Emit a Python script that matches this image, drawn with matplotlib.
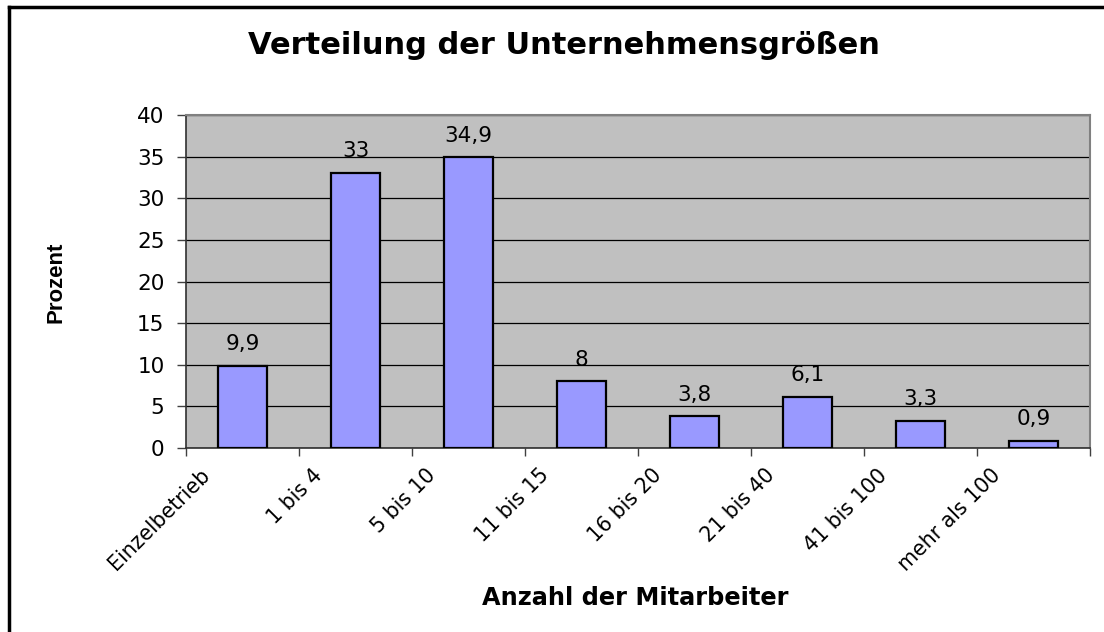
import matplotlib
matplotlib.use("Agg")
import matplotlib.pyplot as plt
import matplotlib.transforms as mtransforms
from matplotlib.lines import Line2D

categories = ["Einzelbetrieb", "1 bis 4", "5 bis 10", "11 bis 15", "16 bis 20",
              "21 bis 40", "41 bis 100", "mehr als 100"]
values = [9.9, 33, 34.9, 8, 3.8, 6.1, 3.3, 0.9]
value_labels = ["9,9", "33", "34,9", "8", "3,8", "6,1", "3,3", "0,9"]
yticks = [0, 5, 10, 15, 20, 25, 30, 35, 40]

plt.rcParams['font.family'] = ['DejaVu Sans']

W, H = 1104, 632
fig = plt.figure(figsize=(W / 100, H / 100), dpi=100)
fig.patch.set_facecolor("white")

# outer border (left and top only visible)
fig.add_artist(Line2D([9 / W, 9 / W], [0, 1 - 6.5 / H], transform=fig.transFigure,
                      color="black", lw=2.5))
fig.add_artist(Line2D([9 / W, 1], [1 - 6.5 / H, 1 - 6.5 / H], transform=fig.transFigure,
                      color="black", lw=2.5))

left, right = 186 / W, 1090 / W
bottom, top = 1 - 448 / H, 1 - 115 / H
ax = fig.add_axes([left, bottom, right - left, top - bottom])
ax.set_facecolor("#C0C0C0")

x = list(range(len(categories)))
ax.bar(x, values, width=0.43, color="#9999FF", edgecolor="black", linewidth=1.6, zorder=3)

ax.set_xlim(-0.5, len(categories) - 0.5)
ax.set_ylim(0, 40)
ax.set_yticks(yticks)
ax.set_yticklabels([str(t) for t in yticks], fontsize=15.5)
ax.yaxis.grid(True, color="black", linewidth=0.9, zorder=1)
ax.set_axisbelow(True)

ax.set_xticks([i - 0.5 for i in range(len(categories) + 1)])
ax.set_xticklabels([])
ax.tick_params(axis="x", length=5.5, width=1, color="#404040", direction="out")
ax.tick_params(axis="y", length=6.5, width=1, color="#404040", direction="out", pad=9)

for s in ["left", "bottom"]:
    ax.spines[s].set_color("#303030")
    ax.spines[s].set_linewidth(1.2)
for s in ["top", "right"]:
    ax.spines[s].set_color("#808080")
    ax.spines[s].set_linewidth(1.5)

# value labels
for xi, v, lab in zip(x, values, value_labels):
    ax.annotate(lab, (xi, v), xytext=(0, 8.5), textcoords="offset points",
                ha="center", va="bottom", fontsize=15.5)

# rotated category labels
trans = mtransforms.blended_transform_factory(ax.transData, ax.transAxes)
off = mtransforms.ScaledTranslation(-36 / 100, -24 / 100, fig.dpi_scale_trans)
for xi, cat in zip(x, categories):
    ax.text(xi, 0, cat, transform=trans + off, rotation=45, rotation_mode="anchor",
            ha="right", va="center", fontsize=14.8)

fig.text(564 / W, 1 - 45 / H, "Verteilung der Unternehmensgrößen", ha="center",
         va="center", fontsize=22, fontweight="bold")
fig.text(635 / W, 1 - 598 / H, "Anzahl der Mitarbeiter", ha="center", va="center",
         fontsize=17.3, fontweight="bold")
fig.text(56 / W, 1 - 282 / H, "Prozent", ha="center", va="center", rotation=90,
         fontsize=16, fontweight="bold", family="Liberation Sans")

fig.savefig("out.png", dpi=100)
